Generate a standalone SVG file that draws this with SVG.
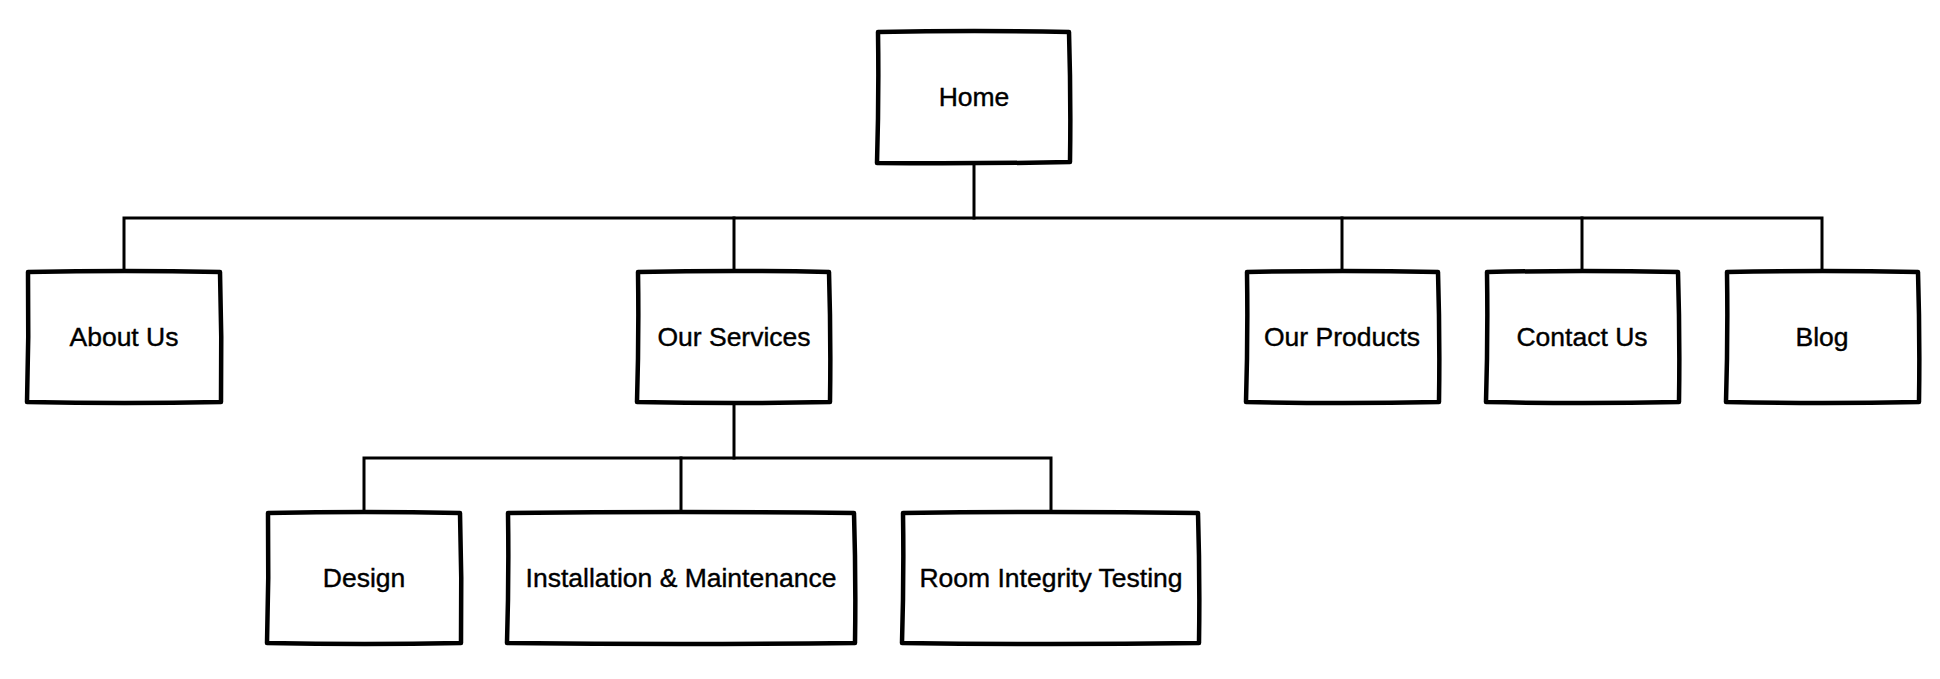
<svg xmlns="http://www.w3.org/2000/svg" width="1940" height="679" viewBox="0 0 1940 679">
<style>
.box{fill:#fff;stroke:#000;stroke-width:4.5;stroke-linejoin:round;stroke-linecap:round}
.edge{fill:none;stroke:#000;stroke-width:3;stroke-linecap:square}
.lbl{font-family:"Liberation Sans",Arial,sans-serif;font-size:26.5px;fill:#000;stroke:#000;stroke-width:0.4;text-anchor:middle;dominant-baseline:central}
</style>
<rect width="1940" height="679" fill="#fff"/>
<g id="connectors">
<path class="edge" d="M974,164 V218"/>
<path class="edge" d="M124,271 V218 H1822 V271"/>
<path class="edge" d="M734,218 V271"/>
<path class="edge" d="M1342,218 V271"/>
<path class="edge" d="M1582,218 V271"/>
<path class="edge" d="M734,403 V458"/>
<path class="edge" d="M364,512 V458 H1051 V512"/>
<path class="edge" d="M681,458 V512"/>
</g>
<g id="home">
<path class="box" d="M878,32 Q975,30 1069,32 Q1071,98 1070,162 Q975,164 877,163 Q879,97 878,32 Z"/>
<text class="lbl" x="974" y="97">Home</text>
</g>
<g id="about-us">
<path class="box" d="M28,272 Q125,270 220,272 Q222,337 221,402 Q125,404 27,402 Q29,337 28,272 Z"/>
<text class="lbl" x="124" y="337">About Us</text>
</g>
<g id="our-services">
<path class="box" d="M638,272 Q735,270 829,272 Q831,337 830,402 Q735,404 637,402 Q639,337 638,272 Z"/>
<text class="lbl" x="734" y="337">Our Services</text>
</g>
<g id="our-products">
<path class="box" d="M1247,272 Q1343,270 1438,272 Q1440,337 1439,402 Q1343,404 1246,402 Q1248,337 1247,272 Z"/>
<text class="lbl" x="1342" y="337">Our Products</text>
</g>
<g id="contact-us">
<path class="box" d="M1487,272 Q1583,270 1678,272 Q1680,337 1679,402 Q1583,404 1486,402 Q1488,337 1487,272 Z"/>
<text class="lbl" x="1582" y="337">Contact Us</text>
</g>
<g id="blog">
<path class="box" d="M1727,272 Q1823,270 1918,272 Q1920,337 1919,402 Q1823,404 1726,402 Q1728,337 1727,272 Z"/>
<text class="lbl" x="1822" y="337">Blog</text>
</g>
<g id="design">
<path class="box" d="M268,513 Q365,511 460,513 Q462,578 461,643 Q365,645 267,643 Q269,578 268,513 Z"/>
<text class="lbl" x="364" y="578">Design</text>
</g>
<g id="installation-maintenance">
<path class="box" d="M508,513 Q681,511 854,513 Q856,578 855,643 Q681,645 507,643 Q509,578 508,513 Z"/>
<text class="lbl" x="681" y="578">Installation &amp; Maintenance</text>
</g>
<g id="room-integrity-testing">
<path class="box" d="M903,513 Q1051,511 1198,513 Q1200,578 1199,643 Q1051,645 902,643 Q904,578 903,513 Z"/>
<text class="lbl" x="1051" y="578">Room Integrity Testing</text>
</g>
</svg>
